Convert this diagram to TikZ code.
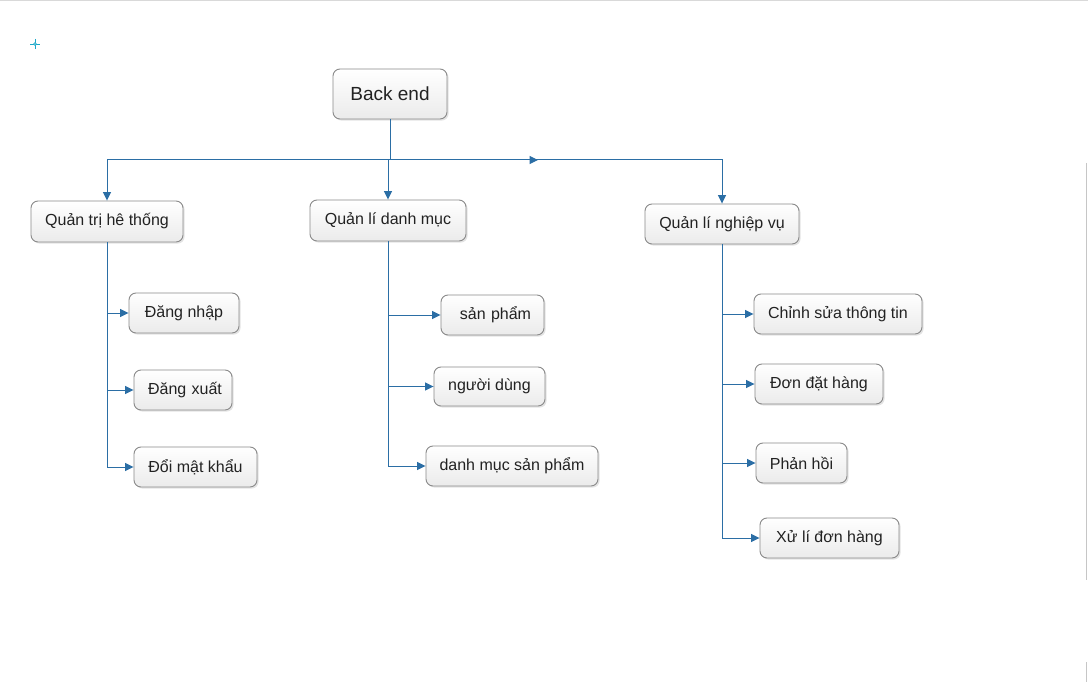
\documentclass[tikz,border=0pt]{standalone}
\usepackage{fontspec}
\setmainfont{Liberation Sans}
\usetikzlibrary{arrows.meta,shadows}
\definecolor{lineblue}{HTML}{2B6EA5}
\definecolor{boxborder}{HTML}{8A8A8A}
\definecolor{boxbottom}{HTML}{EBEBEB}
\definecolor{txt}{HTML}{222222}
\tikzset{
  box/.style={draw=boxborder, line width=0.9pt, rounded corners=7pt,
    top color=white, bottom color=boxbottom, text=txt,
    inner sep=0pt, minimum height=40pt,
    font=\fontsize{16}{18}\selectfont,
    drop shadow={shadow xshift=1.6pt, shadow yshift=-1.6pt, opacity=0.22, fill=gray}},
  conn/.style={draw=lineblue, line width=1pt},
  arr/.style={conn, -{Triangle[length=8.5pt,width=8pt]}},
}
\begin{document}
\begin{tikzpicture}[x=1pt,y=-1pt]
\useasboundingbox (0,0) rectangle (1088,682);
\fill[white] (0,0) rectangle (1088,682);
\draw[gray!30, line width=1.2pt] (0,0.6) -- (1088,0.6);
\draw[gray!45, line width=1pt] (1086.5,163) -- (1086.5,580);
\draw[gray!45, line width=1pt] (1086.5,662) -- (1086.5,682);
% crosshair
\draw[lineblue!60!cyan, line width=0.7pt] (30,44) -- (40,44) (35,39) -- (35,49);
\draw[lineblue!60!cyan, line width=0.6pt, fill=white] (35,44) circle (1.4pt);

% nodes
\node[box, minimum width=114pt, minimum height=50pt, font=\fontsize{19}{22}\selectfont] (be) at (390,94) {Back end};
\node[box, minimum width=152pt, minimum height=41pt] (qt) at (107,221.5) {Quản trị hê thống};
\node[box, minimum width=156pt, minimum height=41pt] (qd) at (388,220.5) {Quản lí danh mục};
\node[box, minimum width=154pt] (qn) at (722,224) {Quản lí nghiệp vụ};

\node[box, minimum width=110pt] (dn) at (184,313) {Đăng nhập};
\node[box, minimum width=98pt, text width=98pt, align=center] (dx) at (183,390) {\hspace*{4pt}Đăng xuất};
\node[box, minimum width=123pt] (dm) at (195.5,467) {Đổi mật khẩu};

\node[box, minimum width=103pt, text width=103pt, align=center] (sp) at (492.5,315) {\hspace*{6pt}sản phẩm};
\node[box, minimum width=111pt, minimum height=39pt] (nd) at (489.5,386.5) {người dùng};
\node[box, minimum width=172pt] (ds) at (512,466) {danh mục sản phẩm};

\node[box, minimum width=168pt] (cs) at (838,314) {Chỉnh sửa thông tin};
\node[box, minimum width=128pt] (dd) at (819,384) {Đơn đặt hàng};
\node[box, minimum width=91pt] (ph) at (801.5,463) {Phản hồi};
\node[box, minimum width=139pt] (xl) at (829.5,538) {Xử lí đơn hàng};

% top connectors
\coordinate (j) at (390,160);
\coordinate (mid) at (538,160);
\draw[conn] (be.south) -- (j);
\draw[arr] (j) -| (qt.north);
\draw[arr] (j) -| (qn.north);
\draw[arr] (qd.north |- j) -- (qd.north);
\draw[arr] (j) -- (mid);

% left branch
\coordinate (lb) at (qt.south |- dm.west);
\draw[conn] (qt.south) -- (lb);
\draw[arr] (qt.south |- dn.west) -- (dn.west);
\draw[arr] (qt.south |- dx.west) -- (dx.west);
\draw[arr] (lb) -- (dm.west);

% middle branch
\coordinate (mb) at (qd.south |- ds.west);
\draw[conn] (qd.south) -- (mb);
\draw[arr] (qd.south |- sp.west) -- (sp.west);
\draw[arr] (qd.south |- nd.west) -- (nd.west);
\draw[arr] (mb) -- (ds.west);

% right branch
\coordinate (rb) at (qn.south |- xl.west);
\draw[conn] (qn.south) -- (rb);
\draw[arr] (qn.south |- cs.west) -- (cs.west);
\draw[arr] (qn.south |- dd.west) -- (dd.west);
\draw[arr] (qn.south |- ph.west) -- (ph.west);
\draw[arr] (rb) -- (xl.west);
\end{tikzpicture}
\end{document}
